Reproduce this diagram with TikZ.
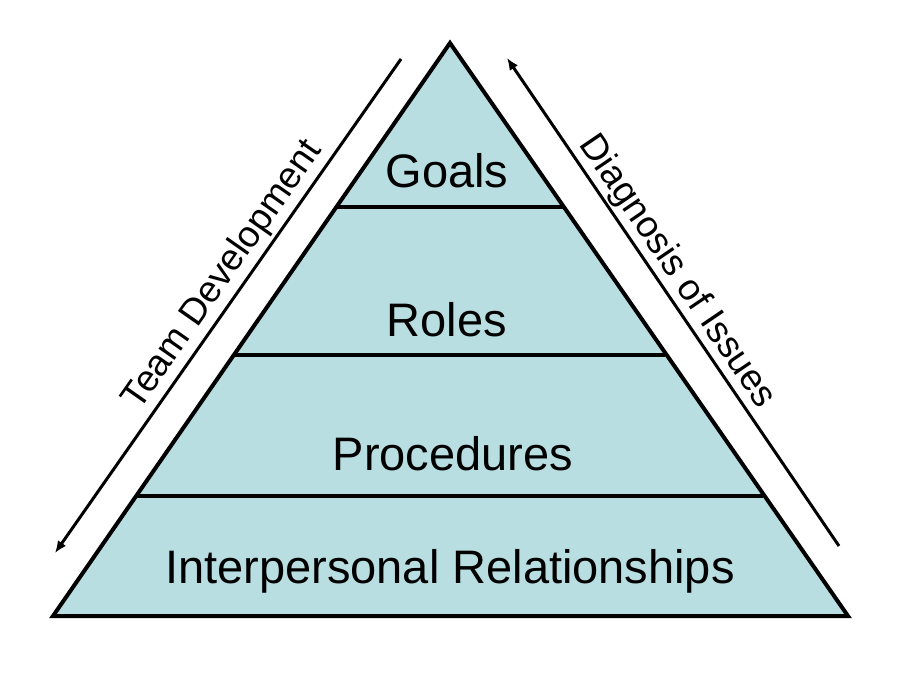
\documentclass[tikz,border=0pt]{standalone}
\usepackage{fontspec}
\setmainfont{Liberation Sans}
\usetikzlibrary{arrows.meta}
\definecolor{pyrfill}{RGB}{184,222,226}
\begin{document}
\begin{tikzpicture}[x=1pt,y=-1pt,
  outline/.style={draw=black,line width=4pt,line join=miter},
  divider/.style={draw=black,line width=3.6pt},
  sidearrow/.style={draw=black,line width=3pt,-{Latex[length=12pt,width=10pt]}},
  levellabel/.style={font=\fontsize{47}{50}\selectfont,anchor=base,inner sep=0pt},
  sidelabel/.style={font=\fontsize{37}{40}\selectfont,inner sep=0pt}]
\useasboundingbox (0,0) rectangle (900,690);
\fill[white] (0,0) rectangle (900,690);
% pyramid
\coordinate (apex) at (450,43);
\coordinate (bl) at (53,616);
\coordinate (br) at (848,616);
\path[fill=pyrfill] (apex) -- (bl) -- (br) -- cycle;
% dividers
\coordinate (d1l) at (336,207); \coordinate (d1r) at (564,207);
\coordinate (d2l) at (234,355); \coordinate (d2r) at (665,355);
\coordinate (d3l) at (137,496); \coordinate (d3r) at (763,496);
\draw[divider] (d1l) -- (d1r);
\draw[divider] (d2l) -- (d2r);
\draw[divider] (d3l) -- (d3r);
\draw[outline] (apex) -- (bl) -- (br) -- cycle;
% labels
\node[levellabel] (goals) at (447,188) {Goals};
\node[levellabel] (roles) at (447,336) {Roles};
\node[levellabel] (proc) at (453,470) {Procedures};
\node[levellabel] (inter) at (450,583) {Interpersonal Relationships};
% side arrows
\coordinate (lt) at (401,59);
\coordinate (lb) at (55,553);
\coordinate (rb) at (839,546);
\coordinate (rt) at (507,58);
\draw[sidearrow] (lt) -- (lb);
\draw[sidearrow] (rb) -- (rt);
\node[sidelabel,rotate=55] (team) at (223,275) {Team Development};
\node[sidelabel,rotate=-55.8] (diag) at (677,272) {Diagnosis of Issues};
\end{tikzpicture}
\end{document}
